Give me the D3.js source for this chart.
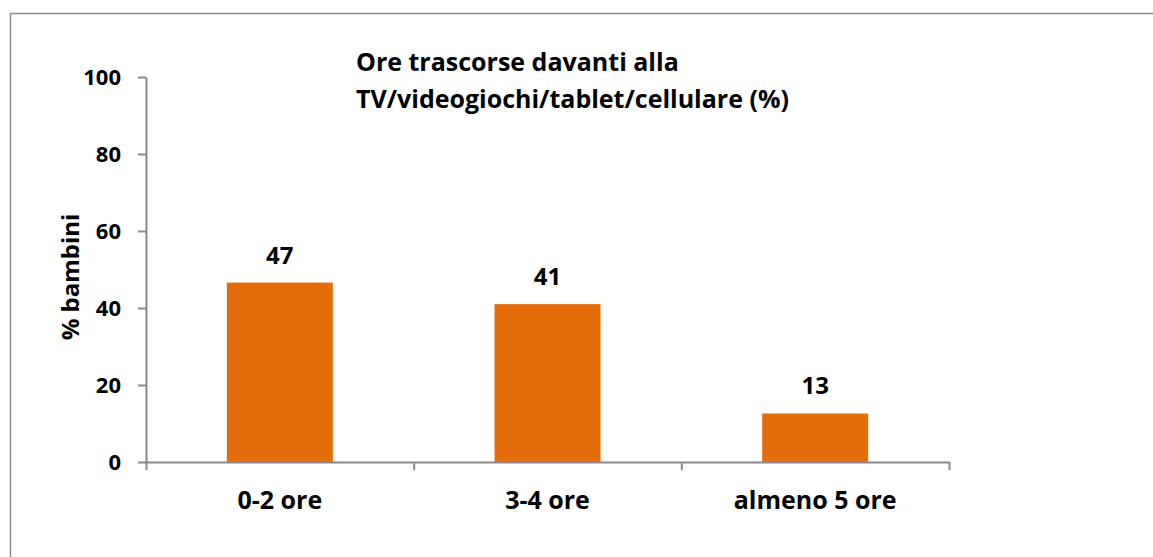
<!DOCTYPE html>
<html>
<head>
<meta charset="utf-8">
<script src="https://cdn.jsdelivr.net/npm/d3@7"></script>
<style>
  body { margin: 0; background: #fff; }
  svg text { font-family: "Open Sans", sans-serif; font-weight: bold; fill: #000; }
</style>
</head>
<body>
<div id="chart"></div>
<script>
var categories = ["0-2 ore", "3-4 ore", "almeno 5 ore"];
var values = [46.6, 41.0, 12.6];
var valueLabels = ["47", "41", "13"];
var yTicks = [0, 20, 40, 60, 80, 100];
var titleLines = ["Ore trascorse davanti alla", "TV/videogiochi/tablet/cellulare (%)"];
var yTitle = "% bambini";

var w = 1153,
    h = 557,
    plotLeft = 146,
    plotRight = 949,
    plotTop = 77,
    plotBottom = 462,
    axisColor = "#898989";

var svg = d3.select("#chart").append("svg")
    .attr("width", w)
    .attr("height", h);

// outer frame
svg.append("rect")
    .attr("x", 10.5)
    .attr("y", 13.5)
    .attr("width", w)
    .attr("height", h)
    .attr("fill", "none")
    .attr("stroke", "#8c8c8c")
    .attr("stroke-width", 1.5);

var y = d3.scaleLinear().domain([0, 100]).range([plotBottom, plotTop]);

var x = d3.scaleBand()
    .domain(categories)
    .range([plotLeft, plotRight])
    .paddingInner(0.604)
    .paddingOuter(0.302);

// category boundaries for the x tick marks
var xb = d3.scaleLinear().domain([0, categories.length]).range([plotLeft, plotRight]);

// bars
svg.append("g")
    .selectAll("rect")
    .data(values)
    .enter().append("rect")
    .attr("x", function(d, i) { return x(categories[i]); })
    .attr("y", function(d) { return y(d); })
    .attr("width", x.bandwidth())
    .attr("height", function(d) { return y(0) - y(d); })
    .attr("fill", "#e46c0a");

// y axis
var yAxis = svg.append("g")
    .attr("transform", "translate(" + plotLeft + ",0)")
    .call(d3.axisLeft(y).tickValues(yTicks).tickSize(8).tickSizeOuter(0).tickPadding(17));
yAxis.selectAll("path, line").attr("stroke", axisColor).attr("stroke-width", 2);
yAxis.selectAll("text").style("font-size", "22px").style("font-family", null).style("font-weight", null);
yAxis.attr("font-family", null).attr("font-size", null);

// x axis
var xAxis = svg.append("g")
    .attr("transform", "translate(0," + plotBottom + ")")
    .call(d3.axisBottom(xb).tickValues(d3.range(categories.length + 1)).tickFormat("").tickSize(8).tickSizeOuter(0));
xAxis.selectAll("path, line").attr("stroke", axisColor).attr("stroke-width", 2);

// category labels
svg.append("g")
    .selectAll("text")
    .data(categories)
    .enter().append("text")
    .attr("x", function(d) { return x(d) + x.bandwidth() / 2; })
    .attr("y", 509)
    .attr("text-anchor", "middle")
    .style("font-size", "25px")
    .text(function(d) { return d; });

// value labels
svg.append("g")
    .selectAll("text")
    .data(values)
    .enter().append("text")
    .attr("x", function(d, i) { return x(categories[i]) + x.bandwidth() / 2; })
    .attr("y", function(d) { return y(d) - 19; })
    .attr("text-anchor", "middle")
    .style("font-size", "24px")
    .text(function(d, i) { return valueLabels[i]; });

// axis title
svg.append("text")
    .attr("transform", "translate(79," + 277 + ") rotate(-90)")
    .attr("text-anchor", "middle")
    .style("font-size", "24px")
    .text(yTitle);

// chart title
svg.append("g")
    .selectAll("text")
    .data(titleLines)
    .enter().append("text")
    .attr("x", 356)
    .attr("y", function(d, i) { return 71 + i * 37; })
    .style("font-size", "25px")
    .text(function(d) { return d; });
</script>
</body>
</html>
